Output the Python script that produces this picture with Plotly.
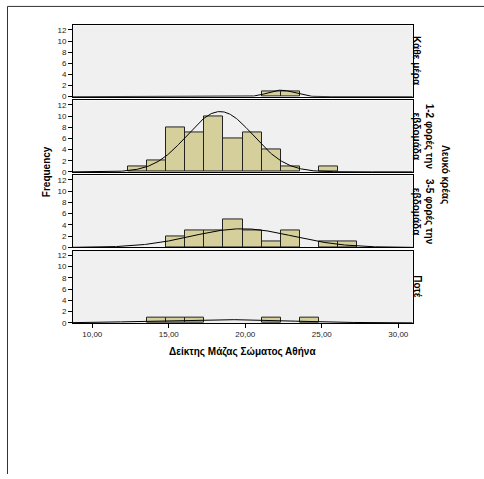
import numpy as np
import plotly.graph_objects as go

# Histogram bins (BMI), shared by all panels
BIN_START = 12.35
BIN_WIDTH = 1.245
N_BINS = 12

groups = ["Κάθε μέρα", "1-2 φορές την<br>εβδομάδα", "3-5 φορές την<br>εβδομάδα", "Ποτέ"]

# Frequencies per bin for each group
counts_every_day = [0, 0, 0, 0, 0, 0, 0, 1, 1, 0, 0, 0]
counts_1_2_week = [1, 2, 8, 7, 10, 6, 7, 4, 1, 0, 1, 0]
counts_3_5_week = [0, 0, 2, 3, 3, 5, 3, 1, 3, 0, 1, 1]
counts_never = [0, 1, 1, 1, 0, 0, 0, 1, 0, 1, 0, 0]

# Fitted normal curve parameters (mean, std. dev.) per group
curve_mean = [22.35, 18.35, 19.8, 18.45]
curve_sd = [0.85, 2.16, 3.3, 4.3]

x_tick_vals = [10, 15, 20, 25, 30]
x_tick_text = ["10,00", "15,00", "20,00", "25,00", "30,00"]
y_tick_vals = [0, 2, 4, 6, 8, 10, 12]

all_counts = [counts_every_day, counts_1_2_week, counts_3_5_week, counts_never]

BAR_FILL = "#d4cf9b"
PANEL_BG = "#f0f0f0"
FONT = "Liberation Sans, Arial, sans-serif"

W, H = 484, 479
x_dom = [73 / W, 412.7 / W]
panel_px = [(25.7, 97.7), (101.5, 173.7), (177.3, 250.0), (253.3, 326.3)]
domains = [[1 - b / H, 1 - t / H] for t, b in panel_px]

edges = BIN_START + BIN_WIDTH * np.arange(N_BINS + 1)
centers = (edges[:-1] + edges[1:]) / 2
xs = np.linspace(8.74, 30.94, 400)

fig = go.Figure()
for i, cnt in enumerate(all_counts):
    ax = "" if i == 0 else str(i + 1)
    n = sum(cnt)
    keep = [k for k, c in enumerate(cnt) if c > 0]
    fig.add_trace(go.Bar(
        x=centers[keep], y=[cnt[k] for k in keep], width=BIN_WIDTH,
        marker=dict(color=BAR_FILL, line=dict(color="#222222", width=1)),
        xaxis="x" + ax, yaxis="y" + ax, showlegend=False,
    ))
    dens = n * BIN_WIDTH * np.exp(-0.5 * ((xs - curve_mean[i]) / curve_sd[i]) ** 2) / (curve_sd[i] * np.sqrt(2 * np.pi))
    fig.add_trace(go.Scatter(
        x=xs, y=dens, mode="lines", line=dict(color="black", width=1),
        xaxis="x" + ax, yaxis="y" + ax, showlegend=False,
    ))

layout = dict(
    width=W, height=H, margin=dict(l=0, r=0, t=0, b=0),
    paper_bgcolor="white", plot_bgcolor=PANEL_BG,
    font=dict(family=FONT, size=8, color="black"),
    bargap=0,
)
for i in range(4):
    ax = "" if i == 0 else str(i + 1)
    last = i == 3
    layout["xaxis" + ax] = dict(
        domain=x_dom, range=[8.74, 30.94], anchor="y" + ax,
        showgrid=False, zeroline=False,
        showline=True, mirror=True, linecolor="black", linewidth=1,
        tickvals=x_tick_vals, ticktext=x_tick_text,
        ticks="outside" if last else "", ticklen=4, tickcolor="black",
        showticklabels=last, tickfont=dict(size=8, color="#222222"),
        **({} if i == 3 else {"matches": "x4"}),
    )
    layout["yaxis" + ax] = dict(
        domain=domains[i], range=[0, 12.8], anchor="x" + ax,
        showgrid=False, zeroline=False,
        showline=True, mirror=True, linecolor="black", linewidth=1,
        tickvals=y_tick_vals, ticks="outside", ticklen=4, tickcolor="black",
        tickfont=dict(size=8, color="#222222"),
    )
fig.update_layout(**layout)

# Row labels on the right
label_x = [417, 422.5, 422.5, 417.5]
for i, g in enumerate(groups):
    t, b = panel_px[i]
    fig.add_annotation(
        x=label_x[i] / W, y=1 - (t + b) / 2 / H, xref="paper", yref="paper",
        text="<b>" + g + "</b>", textangle=90, showarrow=False,
        font=dict(size=10, family=FONT), xanchor="center", yanchor="middle",
    )

fig.add_annotation(
    x=445 / W, y=1 - 176 / H, xref="paper", yref="paper",
    text="<b>Λευκό κρέας</b>", textangle=90, showarrow=False,
    font=dict(size=10, family=FONT), xanchor="center", yanchor="middle",
)
fig.add_annotation(
    x=46 / W, y=1 - 174 / H, xref="paper", yref="paper",
    text="<b>Frequency</b>", textangle=-90, showarrow=False,
    font=dict(size=10, family=FONT), xanchor="center", yanchor="middle",
)
fig.add_annotation(
    x=242.5 / W, y=1 - 356 / H, xref="paper", yref="paper",
    text="<b>Δείκτης Μάζας Σώματος Αθήνα</b>", showarrow=False,
    font=dict(size=10, family=FONT), xanchor="center", yanchor="middle",
)

# Outer frame (top and left edges)
fig.add_shape(type="line", xref="paper", yref="paper",
              x0=7.5 / W, x1=1.0, y0=1 - 6.5 / H, y1=1 - 6.5 / H,
              line=dict(color="#333333", width=1))
fig.add_shape(type="line", xref="paper", yref="paper",
              x0=7.5 / W, x1=7.5 / W, y0=0, y1=1 - 6.5 / H,
              line=dict(color="#333333", width=1))

fig.write_html("out.html")
